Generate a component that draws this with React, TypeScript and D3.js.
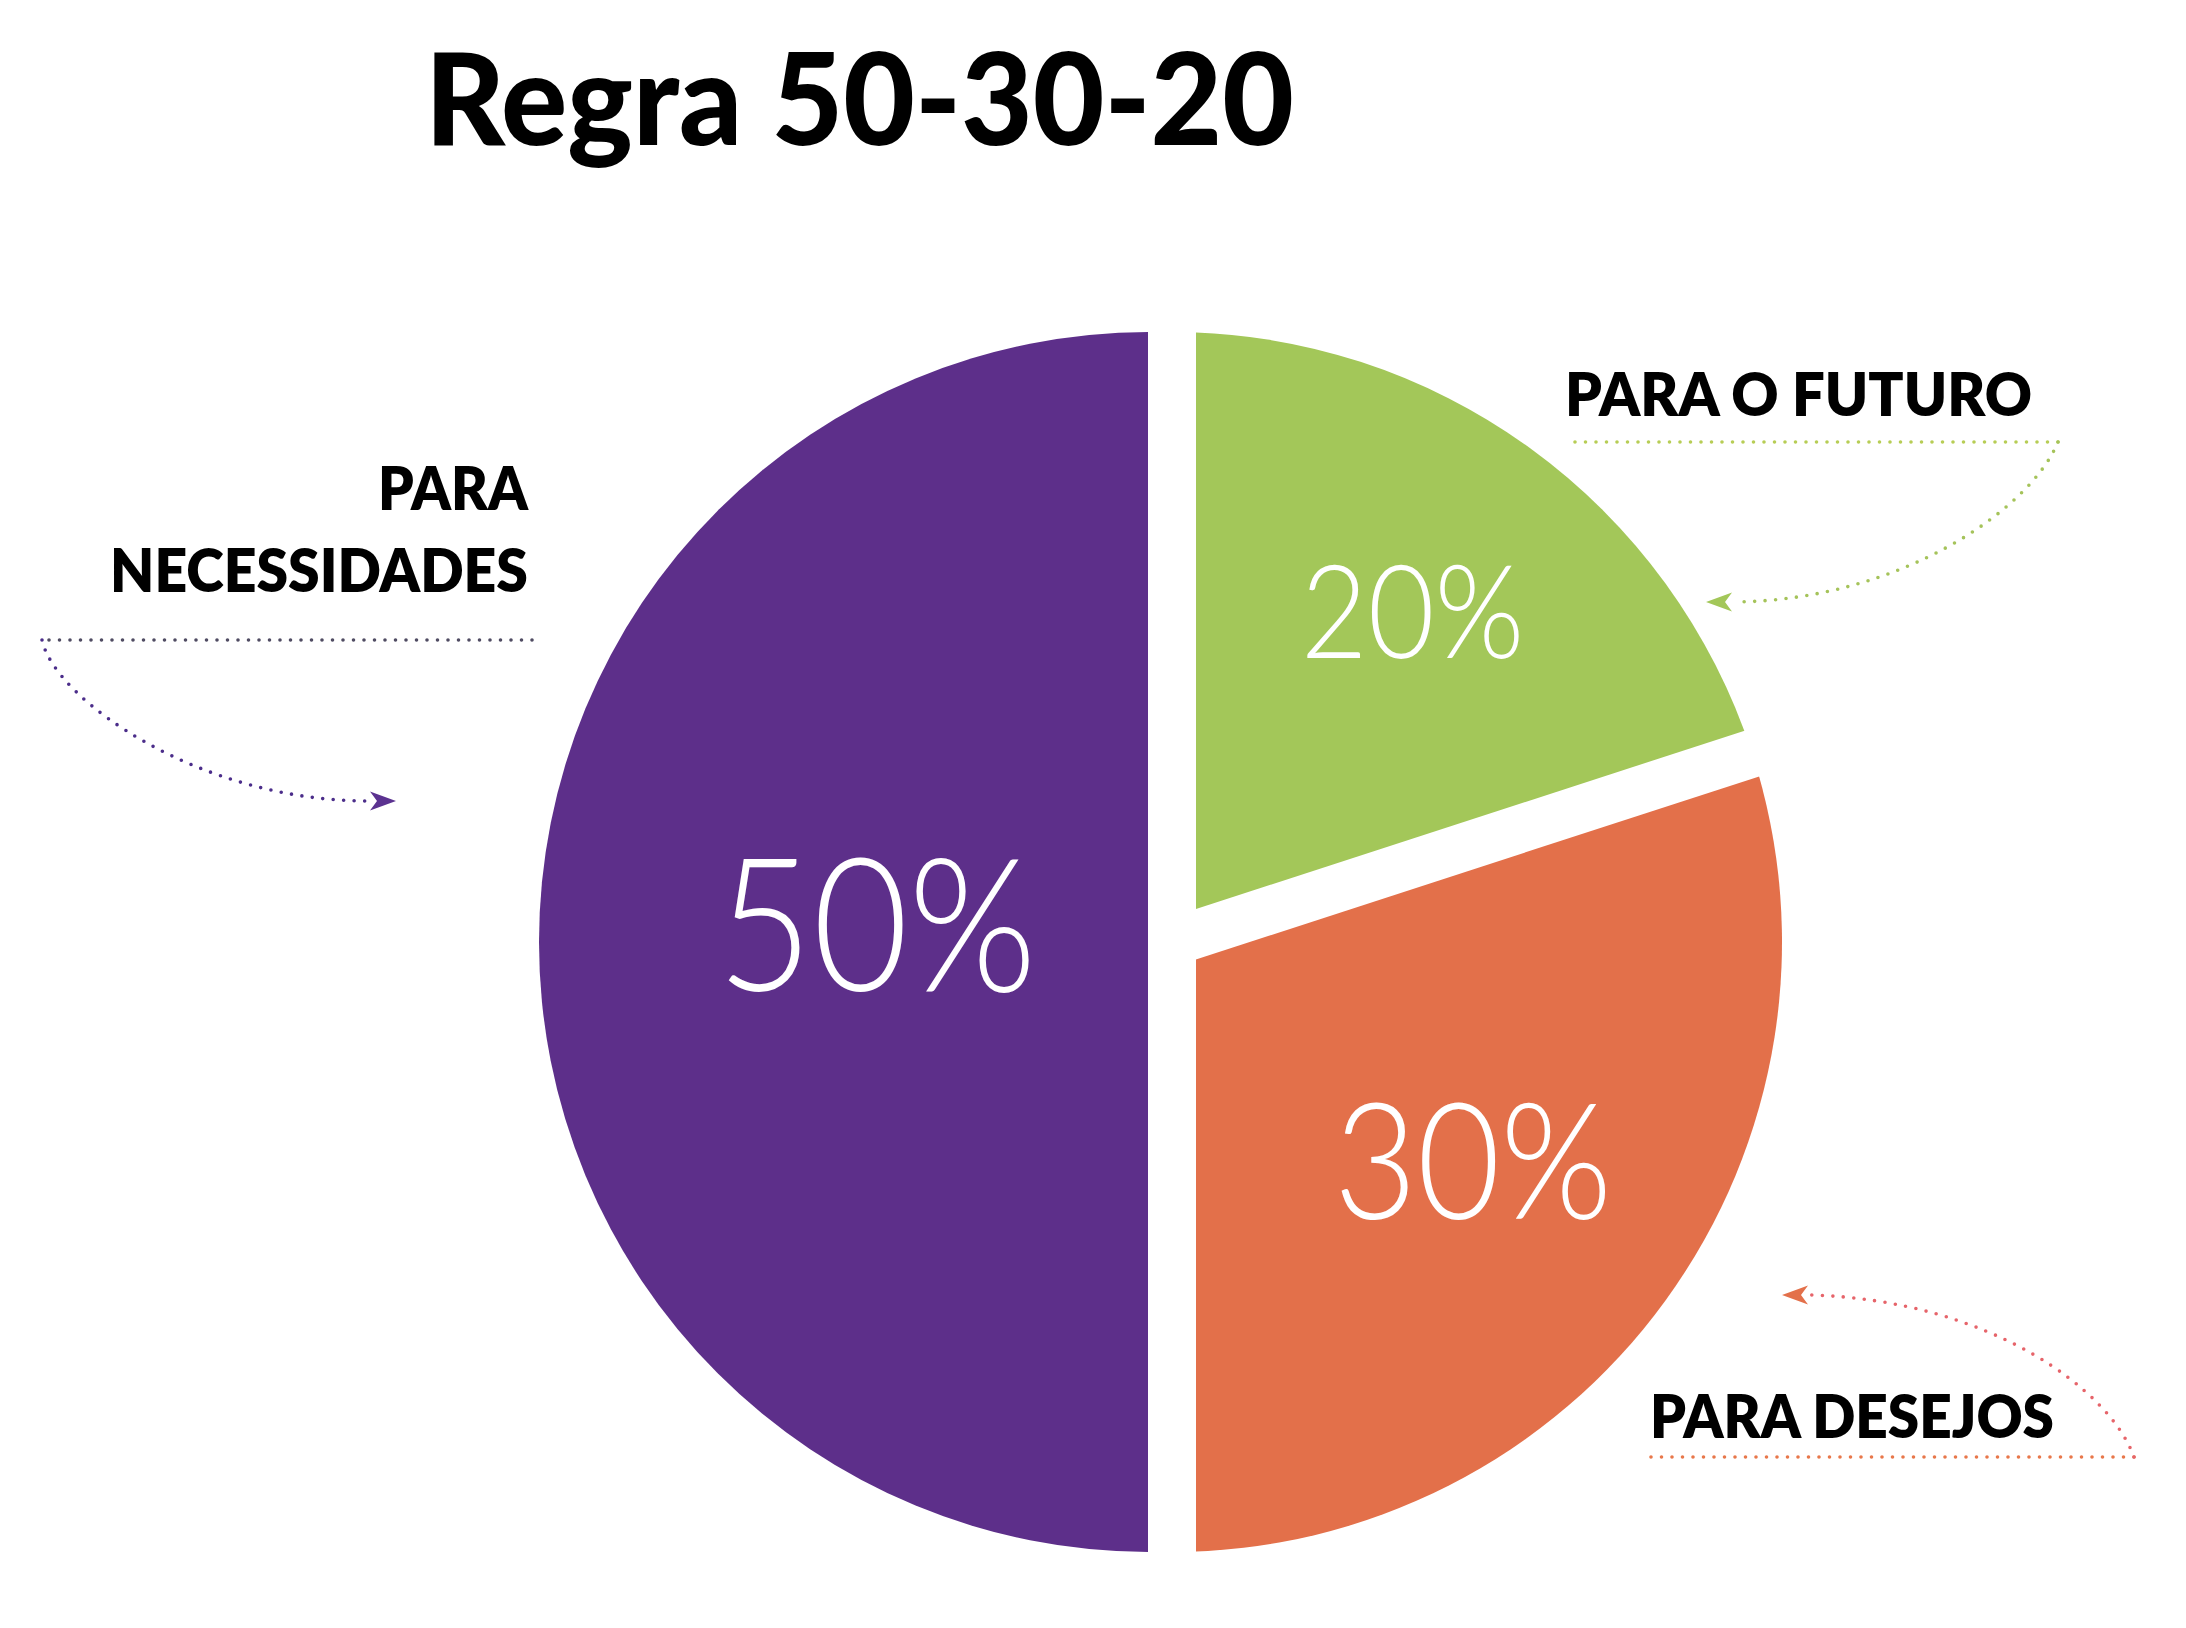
import React from 'react';
import { pie, arc, range } from 'd3';

// data
const categories = ['PARA NECESSIDADES', 'PARA DESEJOS', 'PARA O FUTURO'];
const shares = [50, 30, 20];
const percentLabels = ['50%', '30%', '20%'];

// layout
const W = 2186;
const H = 1628;
const CX = 1172;
const CY = 942;
const R = 610;
const GAP = 48;
const BIG = 3000;

const colors = ['#5d2f8a', '#e3704a', '#a3c759'];
const explode = [23, 0, 0]; // the purple half is pushed out to the left
const pctFont = [186, 162, 130];
const pctRadius = [0.446, 0.61, 0.671];
const pctDy = [-18, 0, 0];

type Pt = [number, number];
interface Callout {
  lines: string[];
  widths: number[];
  anchor: 'start' | 'end';
  x: number;
  baselines: number[];
  rule: [number, number, number];
  curve: [Pt, Pt, Pt, Pt];
  tip: Pt;
  dir: number;
  ruleColor: string;
  curveColor: string;
  arrowColor: string;
}

const callouts: Callout[] = [
  {
    lines: ['PARA', 'NECESSIDADES'],
    widths: [150, 418],
    anchor: 'end',
    x: 528,
    baselines: [510, 592],
    rule: [42, 532, 640],
    curve: [[42, 640], [55, 700], [200, 801], [368, 801]],
    tip: [396, 801],
    dir: 0,
    ruleColor: '#4f4b62',
    curveColor: '#4b2d8a',
    arrowColor: '#5b3290',
  },
  {
    lines: ['PARA DESEJOS'],
    widths: [404],
    anchor: 'start',
    x: 1650,
    baselines: [1438],
    rule: [1643, 2134, 1457],
    curve: [[2134, 1457], [2110, 1390], [1990, 1300], [1810, 1295]],
    tip: [1782, 1295],
    dir: 180,
    ruleColor: '#e8774a',
    curveColor: '#e6646a',
    arrowColor: '#e3704a',
  },
  {
    lines: ['PARA O FUTURO'],
    widths: [467],
    anchor: 'start',
    x: 1565,
    baselines: [416],
    rule: [1567, 2058, 442],
    curve: [[2058, 442], [2030, 510], [1900, 600], [1735, 602]],
    tip: [1706, 602],
    dir: 180,
    ruleColor: '#b7cd55',
    curveColor: '#a5c35a',
    arrowColor: '#a3c759',
  },
];

const deg = (a: number) => (a * 180) / Math.PI;

export default function App() {
  // smallest share starts at 12 o'clock, going clockwise
  const arcs = pie<number>()
    .value((i) => shares[i])
    .sortValues((a, b) => a - b)(range(shares.length));

  const sector = arc<any>().innerRadius(0).outerRadius(R);

  const dots = {
    fill: 'none',
    strokeWidth: 3.6,
    strokeLinecap: 'round' as const,
    strokeDasharray: '0 10.5',
  };

  return (
    <svg
      width={W}
      height={H}
      viewBox={`0 0 ${W} ${H}`}
      style={{ position: 'absolute', left: 0, top: 0, background: '#fff' }}
    >
      <defs>
        {arcs.map((a) => (
          <React.Fragment key={a.data}>
            <clipPath id={`s${a.data}a`}>
              <rect
                x={GAP / 2}
                y={-BIG}
                width={BIG}
                height={2 * BIG}
                transform={`translate(${CX},${CY}) rotate(${deg(a.startAngle)})`}
              />
            </clipPath>
            <clipPath id={`s${a.data}b`}>
              <rect
                x={-BIG}
                y={-BIG}
                width={BIG - GAP / 2}
                height={2 * BIG}
                transform={`translate(${CX},${CY}) rotate(${deg(a.endAngle)})`}
              />
            </clipPath>
          </React.Fragment>
        ))}
      </defs>

      <text
        x={425}
        y={145}
        textLength={869}
        lengthAdjust="spacingAndGlyphs"
        fontFamily="Lato, 'Open Sans', sans-serif"
        fontWeight={900}
        fontSize={128}
        fill="#000"
      >
        Regra 50-30-20
      </text>

      {arcs.map((a) => {
        const i = a.data;
        const mid = (a.startAngle + a.endAngle) / 2;
        const ox = CX + Math.sin(mid) * explode[i];
        const oy = CY - Math.cos(mid) * explode[i];
        const k = pctRadius[i] * R;
        const [lx, ly] = arc<any>().innerRadius(k).outerRadius(k).centroid(a);
        const fs = pctFont[i];
        return (
          <g key={i}>
            <g clipPath={`url(#s${i}a)`}>
              <g clipPath={`url(#s${i}b)`}>
                <path d={sector(a) || ''} transform={`translate(${ox},${oy})`} fill={colors[i]} />
              </g>
            </g>
            <text
              x={ox + lx}
              y={oy + ly + fs * 0.36 + pctDy[i]}
              textAnchor="middle"
              textLength={fs * 1.72}
              lengthAdjust="spacingAndGlyphs"
              fontFamily="Lato, 'Open Sans', sans-serif"
              fontWeight={300}
              fontSize={fs}
              fill="#fff"
            >
              {percentLabels[i]}
            </text>
          </g>
        );
      })}

      {callouts.map((c, j) => {
        const [p0, c1, c2, p3] = c.curve;
        return (
          <g key={categories[j]}>
            {c.lines.map((ln, li) => (
              <text
                key={ln}
                x={c.x}
                y={c.baselines[li]}
                textAnchor={c.anchor}
                textLength={c.widths[li]}
                lengthAdjust="spacingAndGlyphs"
                fontFamily="Lato, 'Noto Sans', sans-serif"
                fontWeight={800}
                fontSize={61}
                fill="#000"
              >
                {ln}
              </text>
            ))}
            <path
              d={`M${c.rule[1]},${c.rule[2]}H${c.rule[0]}`}
              stroke={c.ruleColor}
              {...dots}
            />
            <path
              d={`M${p0[0]},${p0[1]}C${c1[0]},${c1[1]} ${c2[0]},${c2[1]} ${p3[0]},${p3[1]}`}
              stroke={c.curveColor}
              {...dots}
            />
            <path
              d="M0,0L-26,-9.5L-19,0L-26,9.5Z"
              transform={`translate(${c.tip[0]},${c.tip[1]}) rotate(${c.dir})`}
              fill={c.arrowColor}
            />
          </g>
        );
      })}
    </svg>
  );
}
